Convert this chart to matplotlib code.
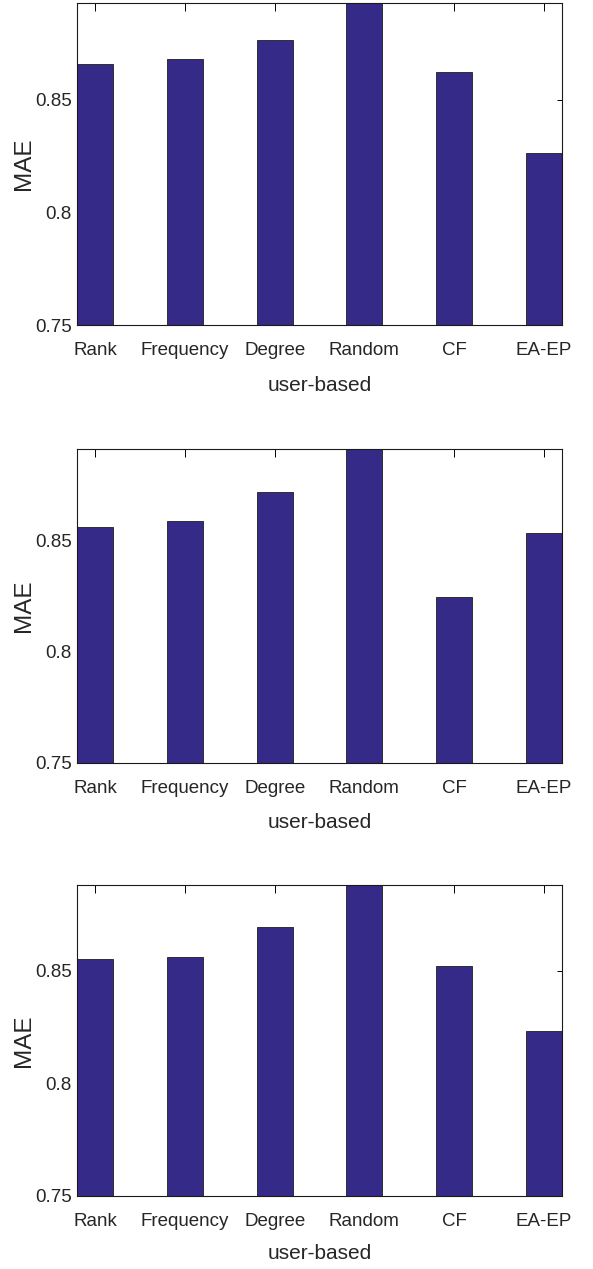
import matplotlib
matplotlib.use("Agg")
import matplotlib.pyplot as plt

categories = ["Rank", "Frequency", "Degree", "Random", "CF", "EA-EP"]
mae_top = [0.866, 0.868, 0.8765, 0.905, 0.8623, 0.8263]
mae_mid = [0.856, 0.8587, 0.8719, 0.905, 0.8245, 0.8535]
mae_bot = [0.855, 0.8562, 0.8693, 0.905, 0.8519, 0.8234]
series = [mae_top, mae_mid, mae_bot]
ylim_tops = [0.893, 0.891, 0.888]
yticks = [0.75, 0.8, 0.85]
ytick_labels = ["0.75", "0.8", "0.85"]
xlabel = "user-based"
ylabel = "MAE"

font = "Liberation Sans"
bar_color = "#352A87"
text_color = "#262626"

W, H = 593, 1269
fig = plt.figure(figsize=(W / 100, H / 100), dpi=100)
boxes = [(2.7, 325.0), (449.3, 763.0), (885.0, 1196.0)]  # top, bottom in px
left_px, right_px = 77.3, 561.7
xlabel_offsets = [51, 50, 48]

for vals, (top, bottom), ytop, xoff in zip(series, boxes, ylim_tops, xlabel_offsets):
    ax = fig.add_axes([left_px / W, 1 - bottom / H, (right_px - left_px) / W, (bottom - top) / H])
    x = list(range(1, len(categories) + 1))
    ax.bar(x, vals, width=0.4, color=bar_color, edgecolor="#1e1e1e", linewidth=0.6, zorder=1)
    ax.set_xlim(0.8, 6.2)
    ax.set_ylim(0.75, ytop)
    ax.set_axisbelow(True)
    ax.set_xticks(x)
    ax.set_xticklabels(categories, fontfamily=font, fontsize=13.5, color=text_color)
    ax.set_yticks(yticks)
    ax.set_yticklabels(ytick_labels, fontfamily=font, fontsize=13.5, color=text_color)
    ax.tick_params(axis="x", direction="in", length=5.8, width=0.7, top=True, bottom=True, pad=12.5)
    ax.tick_params(axis="y", direction="in", length=3.6, width=0.7, left=True, right=True, pad=4)
    for s in ax.spines.values():
        s.set_linewidth(0.8)
        s.set_color("#1a1a1a")
    h_px = bottom - top
    ax.set_xlabel(xlabel, fontfamily=font, fontsize=15, color=text_color)
    ax.xaxis.set_label_coords(0.5, -xoff / h_px)
    ax.set_ylabel(ylabel, fontfamily=font, fontsize=17.5, color=text_color)
    ax.yaxis.set_label_coords((35.5 - left_px) / (right_px - left_px), 0.5)

fig.savefig("out.png", dpi=100)
